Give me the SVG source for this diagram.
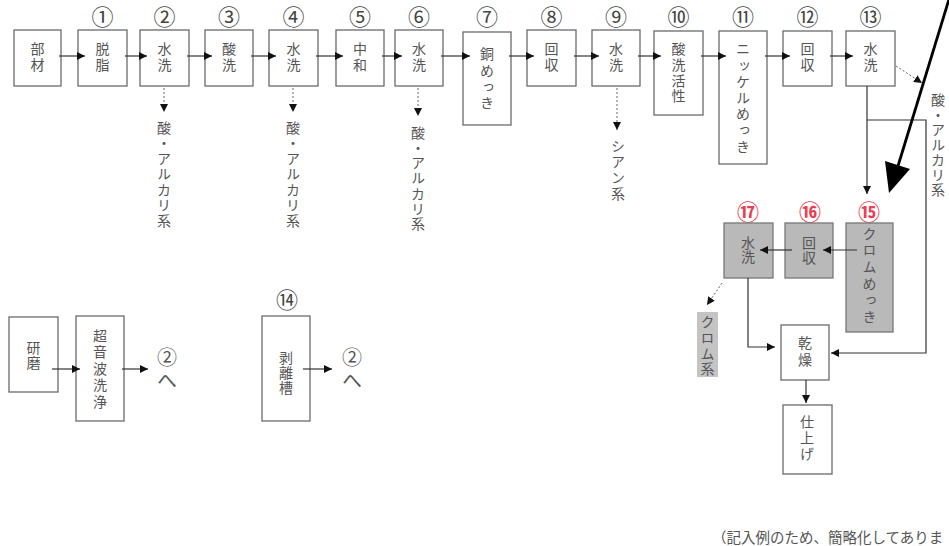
<svg xmlns="http://www.w3.org/2000/svg" width="949" height="546" viewBox="0 0 949 546">
<defs>
<style>
.box{fill:#fff;stroke:#6a6a6a;stroke-width:1.3}
.gbox{fill:#b9b9b9;stroke:#777;stroke-width:1.3}
.v{font-family:"Noto Sans CJK JP","Noto Sans CJK SC",sans-serif;font-size:14px;fill:#555;writing-mode:vertical-rl;text-anchor:start}
.num{font-family:"Noto Sans CJK JP",sans-serif;font-size:22px;fill:#444;text-anchor:middle}
.rnum{fill:#e8404f;font-weight:700}
.big{font-size:20px}
.ln{stroke:#333;stroke-width:1.2;fill:none;marker-end:url(#ah)}
.dash{stroke:#666;stroke-width:1;stroke-dasharray:2 2;fill:none;marker-end:url(#ah)}
</style>
<marker id="ah" viewBox="0 0 8 8" refX="8" refY="4" markerWidth="8" markerHeight="8" markerUnits="userSpaceOnUse" orient="auto">
<path d="M0,0 L8,4 L0,8 z" fill="#111"/>
</marker>
</defs>
<rect width="949" height="546" fill="#fff"/>

<!-- top row -->
<g id="n-buzai"><rect class="box" x="14" y="30" width="47" height="56"/><text class="v" x="37.5" y="41.5" style="letter-spacing:2px">部材</text></g>
<g id="n1"><text class="num" x="102.5" y="24.5">①</text><rect class="box" x="78" y="30" width="49" height="56"/><text class="v" x="102.5" y="41.5" style="letter-spacing:2px">脱脂</text></g>
<g id="n2"><text class="num" x="164.5" y="24.5">②</text><rect class="box" x="140" y="30" width="49" height="56"/><text class="v" x="164.5" y="41.5" style="letter-spacing:2px">水洗</text></g>
<g id="n3"><text class="num" x="229" y="24.5">③</text><rect class="box" x="205" y="30" width="48" height="56"/><text class="v" x="229" y="41.5" style="letter-spacing:2px">酸洗</text></g>
<g id="n4"><text class="num" x="293.5" y="24.5">④</text><rect class="box" x="269" y="30" width="49" height="56"/><text class="v" x="293.5" y="41.5" style="letter-spacing:2px">水洗</text></g>
<g id="n5"><text class="num" x="360" y="24.5">⑤</text><rect class="box" x="336" y="30" width="48" height="56"/><text class="v" x="360" y="41.5" style="letter-spacing:2px">中和</text></g>
<g id="n6"><text class="num" x="419" y="24.5">⑥</text><rect class="box" x="395" y="30" width="48" height="56"/><text class="v" x="419" y="41.5" style="letter-spacing:2px">水洗</text></g>
<g id="n7"><text class="num" x="487" y="24.5">⑦</text><rect class="box" x="463" y="32" width="48" height="93"/><text class="v" x="487" y="47" style="letter-spacing:2.3px">銅めっき</text></g>
<g id="n8"><text class="num" x="551.5" y="24.5">⑧</text><rect class="box" x="527" y="30" width="49" height="56"/><text class="v" x="551.5" y="41.5" style="letter-spacing:2px">回収</text></g>
<g id="n9"><text class="num" x="616" y="24.5">⑨</text><rect class="box" x="592" y="30" width="48" height="56"/><text class="v" x="616" y="41.5" style="letter-spacing:2px">水洗</text></g>
<g id="n10"><text class="num" x="678.5" y="24.5">⑩</text><rect class="box" x="654" y="31" width="49" height="84"/><text class="v" x="678.5" y="42" style="letter-spacing:1.7px">酸洗活性</text></g>
<g id="n11"><text class="num" x="743" y="24.5">⑪</text><rect class="box" x="719" y="31" width="48" height="133"/><text class="v" x="743" y="42" style="letter-spacing:2.2px">ニッケルめっき</text></g>
<g id="n12"><text class="num" x="807.5" y="24.5">⑫</text><rect class="box" x="783" y="31" width="49" height="55"/><text class="v" x="807.5" y="41.5" style="letter-spacing:2px">回収</text></g>
<g id="n13"><text class="num" x="870.5" y="24.5">⑬</text><rect class="box" x="846" y="31" width="49" height="55"/><text class="v" x="870.5" y="41.5" style="letter-spacing:2px">水洗</text></g>

<!-- waste labels -->
<g id="w2"><text class="v" x="164" y="120.5" style="letter-spacing:1.5px">酸・アルカリ系</text></g>
<g id="w4"><text class="v" x="293" y="120.5" style="letter-spacing:1.5px">酸・アルカリ系</text></g>
<g id="w6"><text class="v" x="418" y="125.5" style="letter-spacing:1.2px">酸・アルカリ系</text></g>
<g id="w9"><text class="v" x="618" y="139" style="letter-spacing:2px">シアン系</text></g>
<g id="w13"><text class="v" x="938" y="92.5" style="letter-spacing:1px">酸・アルカリ系</text></g>

<!-- chrome row -->
<g id="n15"><text class="num rnum" x="869" y="219.5">⑮</text><rect class="gbox" x="846" y="223" width="47" height="109"/><text class="v" x="869.5" y="226.5" style="letter-spacing:2.6px">クロムめっき</text></g>
<g id="n16"><text class="num rnum" x="810" y="219.5">⑯</text><rect class="gbox" x="785" y="223" width="48" height="55"/><text class="v" x="809" y="235.5" style="letter-spacing:1px">回収</text></g>
<g id="n17"><text class="num rnum" x="748" y="219.5">⑰</text><rect class="gbox" x="724" y="223" width="49" height="55"/><text class="v" x="748" y="235.5" style="letter-spacing:0.5px">水洗</text></g>
<g id="w17"><rect x="697" y="312" width="21" height="65" fill="#c4c4c4"/><text class="v" x="707.5" y="315" style="letter-spacing:1.7px">クロム系</text></g>
<g id="n-kanso"><rect class="box" x="781" y="325" width="48" height="55"/><text class="v" x="805" y="335.5" style="letter-spacing:3px">乾燥</text></g>
<g id="n-shiage"><rect class="box" x="783" y="405" width="49" height="69"/><text class="v" x="807" y="415" style="letter-spacing:2px">仕上げ</text></g>

<!-- bottom left -->
<g id="n-kenma"><rect class="box" x="9" y="317" width="49" height="75"/><text class="v" x="33.5" y="340.5" style="letter-spacing:1px">研磨</text></g>
<g id="n-choonpa"><rect class="box" x="76" y="316" width="48" height="105"/><text class="v" x="100" y="328.5" style="letter-spacing:2.5px">超音波洗浄</text></g>
<g id="to2a"><text class="v big" x="167" y="347" style="letter-spacing:3px">②へ</text></g>
<g id="n14"><text class="num" x="287" y="308">⑭</text><rect class="box" x="262" y="316" width="48" height="105"/><text class="v" x="286" y="350.5" style="letter-spacing:1px">剥離槽</text></g>
<g id="to2b"><text class="v big" x="352" y="347" style="letter-spacing:3px">②へ</text></g>

<g id="note"><text x="712" y="543" style="font-family:'Noto Sans CJK JP',sans-serif;font-size:14.5px;fill:#555">（記入例のため、簡略化してありま</text></g>

<!-- connectors -->
<g id="connectors">
<path class="ln" d="M59,56 H85"/>
<path class="ln" d="M125,56 H147"/>
<path class="ln" d="M187,56 H212"/>
<path class="ln" d="M251,56 H276"/>
<path class="ln" d="M316,56 H343"/>
<path class="ln" d="M382,56 H402"/>
<path class="ln" d="M441,56 H470"/>
<path class="ln" d="M509,56 H534"/>
<path class="ln" d="M574,56 H599"/>
<path class="ln" d="M638,56 H661"/>
<path class="ln" d="M701,56 H726"/>
<path class="ln" d="M765,56 H790"/>
<path class="ln" d="M830,56 H853"/>
<path class="dash" d="M164,88 V112"/>
<path class="dash" d="M293,88 V112"/>
<path class="dash" d="M418,88 V116"/>
<path class="dash" d="M617,88 V130"/>
<path class="dash" d="M896,66 L922,83"/>
<path class="ln" d="M867,86 V194"/>
<path class="ln" d="M867,120 H926 V353 H831"/>
<path class="ln" d="M857,250 H823"/>
<path class="ln" d="M792,250 H760"/>
<path class="ln" d="M748,278 V347 H775"/>
<path class="dash" d="M722,283 L707,305"/>
<path class="ln" d="M806,380 V403"/>
<path class="ln" d="M52,369 H80"/>
<path class="ln" d="M122,369 H148"/>
<path class="ln" d="M303,369 H332"/>
<line x1="950" y1="-4" x2="898" y2="166" stroke="#000" stroke-width="2.8"/>
<polygon points="885,161 910,169 889,193" fill="#000"/>
</g>
</svg>
